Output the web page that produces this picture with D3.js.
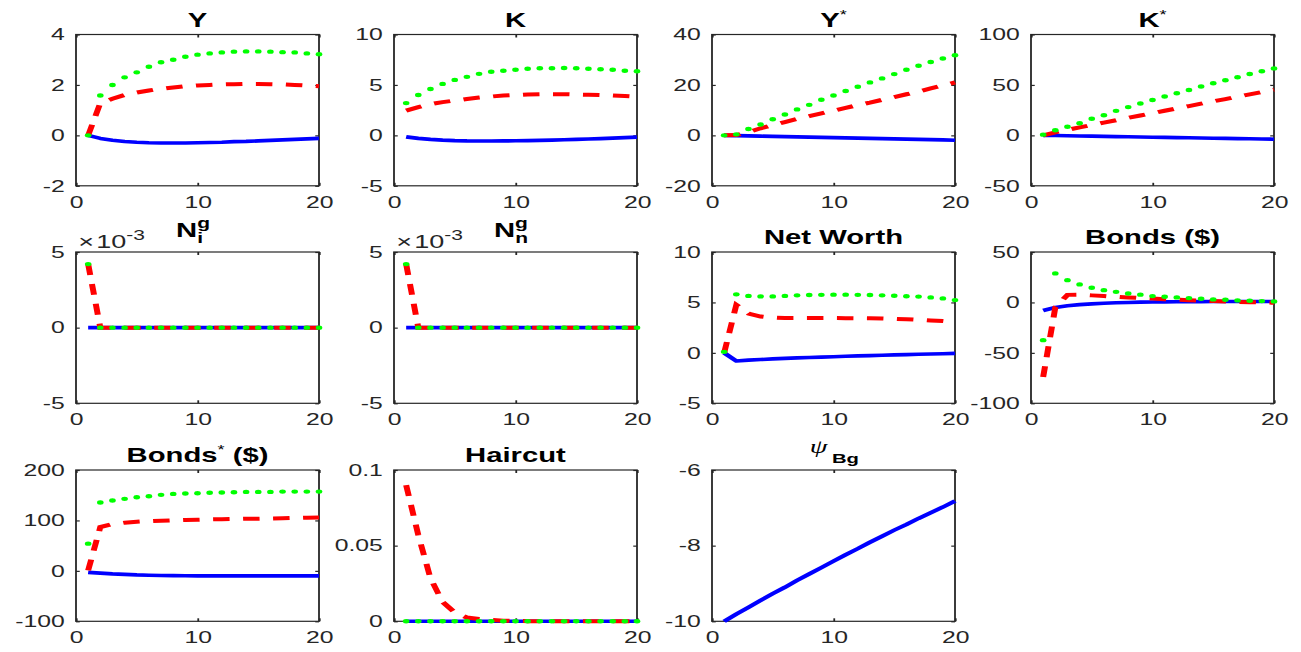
<!DOCTYPE html>
<html>
<head>
<meta charset="utf-8">
<script src="https://cdn.jsdelivr.net/npm/d3@7"></script>
<style>
  body { margin: 0; background: #fff; }
  text { font-family: "Liberation Sans", Arial, Helvetica, sans-serif; }
</style>
</head>
<body>
<div id="chart"></div>
<script>
// horizon (quarters)
var periods = [1, 2, 3, 4, 5, 6, 7, 8, 9, 10, 11, 12, 13, 14, 15, 16, 17, 18, 19, 20]
var xTicks = [0, 10, 20]

// Y
var yBlue  = [0, -0.12, -0.19, -0.24, -0.27, -0.29, -0.3, -0.3, -0.3, -0.29, -0.28, -0.27, -0.25, -0.24, -0.22, -0.2, -0.18, -0.16, -0.14, -0.12]
var yRed   = [0, 1.28, 1.45, 1.6, 1.7, 1.78, 1.85, 1.9, 1.95, 1.98, 2.0, 2.02, 2.03, 2.04, 2.04, 2.03, 2.02, 2.0, 1.98, 1.95]
var yGreen = [0, 1.58, 2.0, 2.3, 2.5, 2.72, 2.9, 3.0, 3.12, 3.2, 3.25, 3.29, 3.32, 3.33, 3.33, 3.32, 3.3, 3.29, 3.25, 3.22]
// K
var kBlue  = [-0.15, -0.3, -0.4, -0.47, -0.52, -0.55, -0.56, -0.56, -0.55, -0.54, -0.52, -0.5, -0.47, -0.44, -0.4, -0.36, -0.32, -0.27, -0.22, -0.17]
var kRed   = [2.45, 2.8, 3.1, 3.3, 3.45, 3.6, 3.75, 3.85, 3.95, 4.0, 4.05, 4.07, 4.08, 4.08, 4.05, 4.03, 4.0, 3.95, 3.9, 3.85]
var kGreen = [3.2, 4.0, 4.6, 5.1, 5.5, 5.8, 6.1, 6.3, 6.4, 6.5, 6.6, 6.65, 6.65, 6.68, 6.65, 6.6, 6.55, 6.5, 6.4, 6.35]
// Y*
var ysBlue  = [0, -0.1, -0.2, -0.3, -0.4, -0.5, -0.6, -0.7, -0.8, -0.9, -1.0, -1.1, -1.2, -1.3, -1.4, -1.5, -1.6, -1.7, -1.8, -1.95]
var ysRed   = [0, 0.1, 1.3, 2.8, 4.1, 5.3, 6.5, 7.6, 8.7, 9.8, 10.9, 12.0, 13.0, 14.1, 15.2, 16.3, 17.4, 18.6, 19.8, 21.0]
var ysGreen = [0, 0.4, 2.5, 4.3, 6.4, 8.3, 10.3, 12.1, 14.1, 15.8, 17.6, 19.3, 21.0, 22.6, 24.3, 26.0, 27.6, 29.1, 30.5, 31.8]
// K*
var ksBlue  = [0, -0.2, -0.4, -0.6, -0.8, -1.0, -1.2, -1.4, -1.6, -1.8, -2.0, -2.2, -2.4, -2.6, -2.8, -3.0, -3.2, -3.4, -3.6, -3.8]
var ksRed   = [0, 3, 5.5, 8, 10.3, 12.7, 15, 17.4, 19.7, 22, 24.4, 26.7, 29, 31.4, 33.7, 36, 38.4, 40.7, 43, 45.3]
var ksGreen = [0.7, 5, 8.5, 12, 16.4, 20, 24.3, 28, 31.6, 35, 38.5, 41.8, 45, 48.4, 51.6, 54.6, 57.6, 60.9, 63.5, 66.4]
// N_i^g and N_n^g (same response)
var nBlue  = [0, 0, 0, 0, 0, 0, 0, 0, 0, 0, 0, 0, 0, 0, 0, 0, 0, 0, 0, 0]
var nRed   = [0.0042, 0, 0, 0, 0, 0, 0, 0, 0, 0, 0, 0, 0, 0, 0, 0, 0, 0, 0, 0]
var nGreen = [0.0042, 0, 0, 0, 0, 0, 0, 0, 0, 0, 0, 0, 0, 0, 0, 0, 0, 0, 0, 0]
// Net worth
var nwBlue  = [0, -0.8, -0.72, -0.66, -0.6, -0.55, -0.5, -0.46, -0.42, -0.38, -0.34, -0.3, -0.27, -0.24, -0.2, -0.17, -0.14, -0.11, -0.08, -0.05]
var nwRed   = [0, 4.75, 3.9, 3.6, 3.5, 3.45, 3.45, 3.45, 3.45, 3.45, 3.44, 3.43, 3.42, 3.4, 3.37, 3.33, 3.28, 3.22, 3.15, 3.07]
var nwGreen = [0.1, 5.8, 5.65, 5.6, 5.6, 5.65, 5.7, 5.73, 5.75, 5.77, 5.77, 5.75, 5.73, 5.7, 5.67, 5.62, 5.58, 5.5, 5.4, 5.23]
// Bonds ($)
var bBlue  = [-8, -5, -3.3, -2.2, -1.4, -0.8, -0.3, 0, 0.3, 0.5, 0.6, 0.7, 0.8, 0.85, 0.9, 0.9, 0.9, 0.9, 0.9, 0.9]
var bRed   = [-74, -5, 7.5, 7.6, 7, 6.3, 5.6, 5, 4.4, 3.8, 3.2, 2.7, 2.2, 1.7, 1.3, 0.9, 0.6, 0.3, 0, -0.3]
var bGreen = [-37.4, 28.8, 22.1, 17.9, 14.5, 12.2, 10.5, 8.9, 7.7, 6.3, 5.7, 5, 4.3, 3.7, 3, 2.7, 2, 1.7, 1.3, 1]
// Bonds* ($)
var bsBlue  = [-3, -4.5, -6, -7, -8, -8.6, -9.1, -9.5, -9.7, -9.9, -10, -10, -10, -10, -10, -10, -10, -10, -10, -10]
var bsRed   = [1, 86.8, 92.8, 95.5, 97.4, 98.6, 99.5, 100.3, 101, 101.5, 102, 102.4, 102.8, 103.2, 103.5, 103.9, 104.3, 104.8, 105.3, 106]
var bsGreen = [54, 135.5, 139.5, 142.8, 146, 148, 150.7, 152.6, 153.3, 154, 155, 155.3, 156, 156.6, 156.6, 156.6, 157.2, 157.2, 157.2, 157.2]
// Haircut
var hBlue  = [0, 0, 0, 0, 0, 0, 0, 0, 0, 0, 0, 0, 0, 0, 0, 0, 0, 0, 0, 0]
var hRed   = [0.09, 0.057, 0.0285, 0.0128, 0.0058, 0.0025, 0.0015, 0.0009, 0.0004, 0.0002, 0.0001, 0, 0, 0, 0, 0, 0, 0, 0, 0]
var hGreen = [0, 0, 0, 0, 0, 0, 0, 0, 0, 0, 0, 0, 0, 0, 0, 0, 0, 0, 0, 0]
// psi_Bg
var psiBlue = [-10, -9.81, -9.63, -9.45, -9.27, -9.1, -8.92, -8.75, -8.58, -8.41, -8.24, -8.08, -7.91, -7.75, -7.59, -7.44, -7.28, -7.13, -6.98, -6.82]

var panels = [
  { title: "Y", ticks: [-2, 0, 2, 4], blue: yBlue, red: yRed, green: yGreen },
  { title: "K", ticks: [-5, 0, 5, 10], blue: kBlue, red: kRed, green: kGreen },
  { title: "Y", sup: "*", ticks: [-20, 0, 20, 40], blue: ysBlue, red: ysRed, green: ysGreen },
  { title: "K", sup: "*", ticks: [-50, 0, 50, 100], blue: ksBlue, red: ksRed, green: ksGreen },
  { title: "N", sup: "g", sub: "i", ticks: [-0.005, 0, 0.005], exponent: -3, blue: nBlue, red: nRed, green: nGreen },
  { title: "N", sup: "g", sub: "n", ticks: [-0.005, 0, 0.005], exponent: -3, blue: nBlue, red: nRed, green: nGreen },
  { title: "Net Worth", ticks: [-5, 0, 5, 10], blue: nwBlue, red: nwRed, green: nwGreen },
  { title: "Bonds ($)", ticks: [-100, -50, 0, 50], blue: bBlue, red: bRed, green: bGreen },
  { title: "Bonds", sup: "*", tail: " ($)", ticks: [-100, 0, 100, 200], blue: bsBlue, red: bsRed, green: bsGreen },
  { title: "Haircut", ticks: [0, 0.05, 0.1], blue: hBlue, red: hRed, green: hGreen },
  { greek: "\u03c8", sub: "Bg", ticks: [-10, -8, -6], blue: psiBlue }
]

// the picture is a matlab figure stretched sideways, so draw narrow and scale x
var sx = 1.5
var colLeft = [76, 394, 712, 1031]
var rowTop = [34.5, 252, 470]
var boxW = 243 / sx, boxH = 151.3
var axisColor = "#262626"

var svg = d3.select("#chart").append("svg")
    .attr("width", 1301)
    .attr("height", 652)

var root = svg.append("g").attr("transform", "scale(" + sx + ",1)")

panels.forEach(function (p, i) {
  var col = i % 4, row = Math.floor(i / 4)
  var g = root.append("g")
    .attr("transform", "translate(" + (colLeft[col] / sx) + "," + rowTop[row] + ")")

  var x = d3.scaleLinear().domain([0, 20]).range([0, boxW])
  var y = d3.scaleLinear().domain([p.ticks[0], p.ticks[p.ticks.length - 1]]).range([boxH, 0])

  var yFmt = function (d) {
    if (p.exponent) return String(Math.round(d / Math.pow(10, p.exponent)))
    return String(d)
  }

  // axes, ticks point inward on all four sides
  var left = g.append("g").call(d3.axisLeft(y).tickValues(p.ticks).tickFormat(yFmt)
    .tickSizeInner(-2.5).tickSizeOuter(0).tickPadding(7.5))
  var bottom = g.append("g").attr("transform", "translate(0," + boxH + ")")
    .call(d3.axisBottom(x).tickValues(xTicks).tickFormat(String)
      .tickSizeInner(-3).tickSizeOuter(0).tickPadding(10))
  var right = g.append("g").attr("transform", "translate(" + boxW + ",0)")
    .call(d3.axisRight(y).tickValues(p.ticks).tickFormat("").tickSizeInner(-2.5).tickSizeOuter(0))
  var top = g.append("g")
    .call(d3.axisTop(x).tickValues(xTicks).tickFormat("").tickSizeInner(-3).tickSizeOuter(0))

  ;[left, bottom, right, top].forEach(function (a) {
    a.select(".domain").remove()
    a.selectAll(".tick line").attr("stroke", axisColor).attr("stroke-width", 1.2)
    a.selectAll(".tick text")
      .attr("fill", axisColor)
      .style("font-size", "16.5px")
      .style("font-family", '"Liberation Sans", Arial, sans-serif')
  })

  g.append("rect")
    .attr("width", boxW)
    .attr("height", boxH)
    .attr("fill", "none")
    .attr("stroke", axisColor)
    .attr("stroke-width", 1.2)

  if (p.exponent) {
    var ex = g.append("text")
      .attr("x", 1.5)
      .attr("y", -4)
      .attr("fill", axisColor)
      .style("font-size", "18px")
    ex.append("tspan").text("\u00d7")
    ex.append("tspan").attr("dx", 1.5).text("10")
    ex.append("tspan").attr("dy", -8).style("font-size", "14px").text(String(p.exponent))
  }

  // lines
  var line = d3.line()
    .x(function (d, k) { return x(periods[k]) })
    .y(function (d) { return y(d) })

  g.append("path")
    .datum(p.blue)
    .attr("d", line)
    .attr("fill", "none")
    .attr("stroke", "#0000ff")
    .attr("stroke-width", 3.6)
    .attr("stroke-linejoin", "round")

  if (p.red) {
    g.append("path")
      .datum(p.red)
      .attr("d", line)
      .attr("fill", "none")
      .attr("stroke", "#ff0000")
      .attr("stroke-width", 4)
      .attr("stroke-dasharray", "11,9")
  }

  if (p.green) {
    g.selectAll(".dot")
      .data(p.green)
      .enter().append("circle")
      .attr("class", "dot")
      .attr("cx", function (d, k) { return x(periods[k]) })
      .attr("cy", function (d) { return y(d) })
      .attr("r", 2.2)
      .attr("fill", "#00ff00")
  }

  // title
  var cx = boxW / 2
  if (p.greek) {
    g.append("text")
      .attr("x", cx - 4)
      .attr("y", -17)
      .attr("text-anchor", "end")
      .style("font-family", '"Liberation Serif", "Times New Roman", serif')
      .style("font-style", "italic")
      .style("font-size", "19px")
      .text(p.greek)
    g.append("text")
      .attr("x", cx - 1)
      .attr("y", -7.5)
      .style("font-weight", "bold")
      .style("font-size", "13.5px")
      .text(p.sub)
  } else if (p.sub) {
    var t = g.append("text")
      .attr("x", cx - 3)
      .attr("y", -15)
      .attr("text-anchor", "middle")
      .style("font-weight", "bold")
      .style("font-size", "19.5px")
    t.append("tspan").text(p.title)
    t.append("tspan").attr("dy", -9).style("font-size", "14px").text(p.sup)
    t.append("tspan").attr("dx", -8.5).attr("dy", 15).style("font-size", "14px").text(p.sub)
  } else {
    var tt = g.append("text")
      .attr("x", cx)
      .attr("y", -8)
      .attr("text-anchor", "middle")
      .style("font-weight", "bold")
      .style("font-size", "19.5px")
    tt.append("tspan").text(p.title)
    if (p.sup) {
      tt.append("tspan").attr("dy", -8).style("font-size", "12px").style("font-weight", "normal").text(p.sup)
    }
    if (p.tail) {
      tt.append("tspan").attr("dy", 8).text(p.tail)
    }
  }
})
</script>
</body>
</html>
